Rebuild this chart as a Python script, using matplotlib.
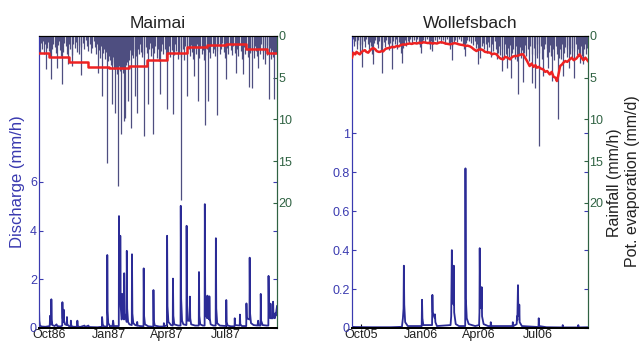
import matplotlib
matplotlib.use("Agg")
import matplotlib.pyplot as plt
import numpy as np

plt.rcParams["font.family"] = ["Liberation Sans", "DejaVu Sans"]

# ---------------- Maimai (start 1986-09-16, x in days) ----------------
mm_start = "1986-09-16"
mm_ticks = ["1986-10-01", "1987-01-01", "1987-04-01", "1987-07-01"]
mm_ticklabels = ["Oct86", "Jan87", "Apr87", "Jul87"]

mm_q_day = [0, 0.5, 1.5, 4, 10, 16.5, 17, 17.5, 18.7, 19, 19.5, 20.5, 24, 27, 28, 33,
            35.7, 36, 36.5, 37.7, 38, 38.5, 40, 42.7, 43, 43.5, 46, 48.7, 49, 49.7, 53,
            58.7, 59, 59.6, 63, 70, 71, 76, 77, 90, 96.7, 97, 98, 100, 104.7, 105, 105.5,
            106.5, 109, 113, 114, 115, 122.7, 123, 123.5, 124.7, 125, 125.6, 127, 127.7,
            128, 128.5, 130.7, 131, 131.6, 134.7, 135, 135.6, 137, 139, 142.7, 143, 143.6,
            145, 148, 150.7, 151, 151.6, 155, 160.7, 161, 161.6, 163, 168, 175.7, 176,
            176.6, 178, 185, 191.7, 192, 193, 196.7, 197, 197.6, 199, 203, 205.7, 206,
            206.6, 208, 214, 217.7, 218, 218.6, 220, 222, 226.7, 227, 227.6, 229, 231.7,
            232, 232.6, 234, 240, 245.7, 246, 246.6, 248, 252, 254.7, 255, 255.6, 257,
            258.7, 259, 259.6, 261.7, 262, 262.6, 264, 268, 271.7, 272, 272.6, 274, 278,
            287.7, 288, 288.6, 290, 295, 300.7, 301, 301.6, 308.7, 309, 309.6, 312, 318.7,
            319, 319.6, 323.7, 324, 324.6, 326, 330, 336, 337, 338, 340.7, 341, 341.6, 344,
            350, 352.7, 353, 353.6, 355.7, 356, 356.6, 359.7, 360, 360.6, 362.7, 363, 364,
            366]
mm_q = [0.9, 0.3, 0.1, 0.06, 0.05, 0.08, 0.5, 0.2, 0.15, 1.18, 0.35, 0.12, 0.08, 0.15, 0.08, 0.06,
        0.1, 1.06, 0.4, 0.25, 0.75, 0.3, 0.15, 0.12, 0.45, 0.15, 0.08, 0.06, 0.3, 0.08, 0.05,
        0.05, 0.3, 0.07, 0.04, 0.1, 0.04, 0.1, 0.04, 0.03, 0.05, 0.45, 0.15, 0.06, 0.06, 3.0, 0.7,
        0.2, 0.08, 0.08, 0.3, 0.08, 0.08, 4.6, 1.5, 1.0, 3.79, 0.9, 0.35, 0.4,
        1.4, 0.5, 0.35, 2.25, 0.6, 0.25, 3.17, 0.8, 0.25, 0.15, 0.12, 3.03, 0.6,
        0.2, 0.12, 0.1, 0.25, 0.1, 0.08, 0.07, 2.45, 0.5, 0.15, 0.07, 0.05, 1.56,
        0.3, 0.1, 0.06, 0.06, 0.2, 0.08, 0.1, 3.79, 0.9, 0.25, 0.12, 0.1, 2.03,
        0.5, 0.15, 0.1, 0.1, 5.02, 1.2, 0.3, 0.15, 0.12, 4.2, 1.0, 0.3, 0.3,
        1.29, 0.4, 0.15, 0.1, 0.1, 2.3, 0.5, 0.15, 0.1, 0.1, 5.09, 1.3, 0.5,
        0.4, 1.33, 0.5, 0.35, 1.3, 0.4, 0.15, 0.1, 0.1, 3.69, 0.8, 0.2, 0.1,
        0.08, 1.15, 0.25, 0.1, 0.07, 0.07, 0.4, 0.12, 0.1, 0.55, 0.15, 0.08, 0.08,
        1.01, 0.4, 0.35, 2.89, 0.6, 0.2, 0.12, 0.1, 0.3, 0.1, 0.1, 1.4, 0.3, 0.12,
        0.1, 0.1, 2.14, 0.6, 0.4, 1.0, 0.4, 0.4, 1.08, 0.5, 0.4, 0.6, 0.5,
        0.9]

mm_rain_day = [0, 1, 3, 4, 6, 8, 9, 11, 12, 14, 16, 17, 19, 20, 22, 24, 26, 28, 29, 31, 33, 34,
               36, 37, 39, 41, 43, 45, 46, 48, 50, 51, 53, 55, 57, 59, 61, 62, 64, 65, 67, 69,
               72, 74, 76, 78, 80, 82, 84, 86, 88, 89, 91, 92, 94, 95, 97, 98, 100, 101, 103,
               105, 106, 107, 108, 109, 110, 111, 112, 113, 114, 115, 116, 117, 118, 119, 120,
               121, 122, 123, 124, 125, 126, 127, 128, 129, 130, 131, 132, 133, 134, 135, 136,
               137, 138, 139, 140, 142, 143, 144, 145, 147, 148, 149, 151, 152, 154, 155, 157,
               159, 161, 162, 164, 166, 168, 169, 171, 173, 174, 176, 177, 179, 181, 183, 184,
               186, 187, 189, 191, 193, 195, 197, 198, 200, 202, 204, 206, 207, 209, 211, 213,
               215, 216, 218, 219, 221, 223, 225, 227, 228, 230, 232, 234, 236, 237, 239, 240,
               242, 243, 245, 246, 248, 250, 252, 253, 255, 256, 258, 260, 261, 263, 265, 267,
               269, 271, 273, 274, 276, 278, 280, 282, 284, 286, 288, 289, 291, 293, 295, 297,
               299, 301, 303, 304, 306, 308, 310, 312, 314, 315, 317, 319, 321, 323, 324, 325,
               327, 328, 330, 332, 334, 335, 337, 338, 340, 342, 344, 345, 347, 348, 350, 351,
               353, 354, 356, 357, 359, 360, 362, 363, 364, 365]
mm_rain = [1.2, 2.0, 0.8, 1.5, 0.6, 2.2, 1.0, 4.0, 1.4, 0.7, 1.8, 2.5, 5.2, 1.6, 0.9, 1.3, 2.0, 3.8, 1.1, 0.6, 1.7, 2.4,
           5.7, 1.9, 0.8, 1.2, 2.1, 3.3, 1.0, 1.5, 2.3, 3.6, 0.9, 1.4, 0.7, 1.9, 1.1, 2.2, 4.7, 1.3, 0.8, 1.6,
           0.5, 1.2, 1.8, 0.9, 2.0, 1.4, 0.6, 1.3, 2.2, 1.0, 4.4, 1.7, 2.6, 1.2, 7.2, 2.0, 1.5, 2.8, 1.9,
           15.2, 3.0, 2.4, 1.6, 2.9, 3.5, 2.2, 8.2, 3.1, 2.5, 4.0, 3.3, 9.2, 2.7, 3.8, 4.5,
           2.9, 18.0, 3.6, 4.2, 3.0, 11.8, 2.6, 3.9, 4.4, 10.2, 3.2, 2.8, 9.8, 3.5, 2.4, 3.1,
           7.8, 2.0, 2.9, 1.7, 11.0, 2.3, 1.5, 2.6, 7.2, 1.8, 2.4, 9.2, 1.6, 2.1, 1.0, 1.9,
           2.5, 12.0, 2.2, 1.3, 2.0, 8.2, 1.5, 0.8, 2.4, 1.4, 11.7, 2.0, 1.2, 2.6, 1.5, 3.0,
           7.0, 1.8, 0.9, 2.2, 1.6, 2.8, 8.7, 2.1, 1.2, 2.5, 1.7, 9.4, 2.3, 1.0, 1.8, 2.7,
           1.4, 2.0, 19.6, 2.5, 1.6, 2.9, 1.2, 7.2, 2.0, 1.5, 2.4, 1.1, 1.9, 2.8, 4.8, 1.3,
           2.2, 1.0, 7.8, 2.6, 1.4, 2.1, 1.7, 2.9, 10.7, 2.3, 1.5, 7.8, 1.9, 2.6, 1.2, 2.0,
           1.5, 2.4, 9.5, 1.8, 1.0, 2.2, 1.6, 0.8, 1.9, 2.6, 5.2, 1.4, 2.1, 0.9, 1.7, 2.3,
           1.2, 2.0, 4.4, 1.5, 2.4, 1.1, 1.8, 2.7, 4.6, 1.3, 2.2, 1.6, 2.5, 6.1, 2.0, 1.4,
           6.2, 1.9, 2.6, 1.2, 1.8, 2.4, 3.8, 1.5, 2.2, 1.0, 1.9, 2.7, 3.4, 1.6, 2.3, 1.1,
           7.5, 2.0, 1.4, 2.8, 1.7, 2.5, 7.6, 2.2, 1.5, 2.0]

mm_pet_month = ["1986-09-16", "1986-10-01", "1986-11-01", "1986-12-01", "1987-01-01",
                "1987-02-01", "1987-03-01", "1987-04-01", "1987-05-01", "1987-06-01",
                "1987-07-01", "1987-08-01", "1987-09-01", "1987-09-17"]
mm_pet = [2.0, 2.5, 3.1, 3.75, 3.85, 3.65, 2.9, 2.0, 1.37, 1.05, 1.0, 1.57, 2.0, 2.0]

# ---------------- Wollefsbach (start 2005-09-17) ----------------
ww_start = "2005-09-17"
ww_ticks = ["2005-10-01", "2006-01-01", "2006-04-01", "2006-07-01"]
ww_ticklabels = ["Oct05", "Jan06", "Apr06", "Jul06"]

ww_q_day = [0, 5, 30, 60, 77, 78.5, 79.5, 80, 80.6, 82, 86, 107.5, 108, 108.6, 110, 123.5, 124,
            124.6, 127.7, 128, 128.6, 131, 152, 153, 154, 154.6, 156.7, 157, 157.6, 160, 165,
            174.6, 175, 175.6, 177, 180, 190, 196, 196.6, 197, 197.6, 199.6, 200, 200.6, 203,
            210, 213.7, 214, 215, 247.7, 248, 249, 254, 254.5, 255, 256, 256.6, 257.7, 258,
            258.6, 262, 287.7, 288, 288.7, 300, 324.7, 325, 325.7, 348.7, 349, 349.7, 364]
ww_q = [0.006, 0.005, 0.004, 0.004, 0.006, 0.05, 0.1, 0.32, 0.12, 0.03, 0.01, 0.01, 0.145, 0.05, 0.015, 0.015, 0.17,
        0.08, 0.05, 0.07, 0.03, 0.01, 0.015, 0.06, 0.40, 0.15, 0.12, 0.32, 0.08, 0.02, 0.01,
        0.01, 0.82, 0.15, 0.05, 0.02, 0.01, 0.015, 0.08, 0.41, 0.15, 0.1, 0.21, 0.06, 0.02,
        0.01, 0.01, 0.03, 0.01, 0.01, 0.03, 0.01, 0.02, 0.06, 0.04, 0.22, 0.08, 0.06, 0.12,
        0.03, 0.01, 0.005, 0.05, 0.01, 0.004, 0.003, 0.015, 0.003, 0.003, 0.015, 0.003, 0.004]

ww_rain_day = [0, 2, 3, 5, 7, 8, 10, 12, 13, 15, 16, 18, 20, 22, 24, 26, 28, 30, 31, 33, 34, 36,
               38, 40, 42, 44, 46, 47, 49, 51, 53, 55, 57, 59, 61, 62, 64, 66, 68, 70, 72, 74,
               75, 77, 78, 80, 82, 84, 86, 88, 90, 93, 95, 98, 100, 103, 105, 107, 108, 110,
               113, 116, 118, 120, 122, 124, 125, 128, 131, 134, 137, 140, 143, 146, 149, 151,
               152, 154, 155, 157, 159, 162, 165, 168, 171, 173, 175, 176, 178, 181, 184, 187,
               189, 191, 193, 195, 196, 198, 200, 202, 204, 206, 208, 210, 212, 214, 216, 218,
               220, 222, 224, 225, 227, 229, 231, 232, 234, 236, 237, 239, 240, 242, 244, 246,
               247, 249, 251, 253, 254, 256, 257, 259, 261, 262, 264, 265, 267, 269, 271, 273,
               275, 277, 278, 280, 282, 283, 285, 286, 288, 289, 291, 293, 295, 296, 298, 300,
               301, 303, 304, 306, 307, 309, 310, 312, 314, 316, 318, 319, 321, 322, 324, 326,
               327, 329, 331, 332, 334, 335, 337, 339, 340, 342, 343, 345, 347, 349, 350, 352,
               353, 355, 357, 358, 360, 361, 363, 364]
ww_rain = [0.8, 0.4, 1.2, 0.6, 1.5, 0.9, 0.5, 1.1, 2.0, 3.7, 1.0, 0.6, 1.3, 0.4, 0.9, 1.6, 0.7, 1.2, 2.2, 3.4, 0.8, 0.5,
           1.0, 1.4, 0.6, 1.8, 4.4, 1.1, 0.7, 1.3, 0.5, 0.9, 1.7, 0.8, 4.0, 1.2, 0.6, 1.0, 0.4, 1.5, 0.7, 1.1,
           2.0, 3.2, 1.4, 0.9, 0.5, 1.2, 0.6, 0.8, 0.4, 1.0, 0.5, 0.7, 0.4, 0.9, 1.3, 2.0, 0.8, 0.5,
           0.7, 0.4, 1.0, 1.5, 0.6, 1.8, 0.9, 0.5, 0.7, 0.4, 0.8, 0.5, 0.9, 0.4, 1.0, 1.6,
           0.7, 2.9, 1.2, 0.8, 0.5, 0.7, 0.4, 0.6, 0.9, 1.5, 2.4, 0.8, 0.5, 0.6, 0.8, 1.1,
           0.6, 1.4, 0.9, 3.3, 1.5, 2.6, 1.2, 0.8, 1.6, 1.0, 2.0, 0.7, 1.3, 2.5, 1.0, 1.8,
           0.6, 1.5, 2.7, 2.0, 1.2, 2.3, 4.2, 1.5, 2.8, 1.0, 2.2, 3.8, 1.4, 2.5, 1.1, 5.0,
           2.0, 1.5, 2.8, 1.2, 3.0, 7.0, 2.2, 1.3, 2.6, 1.7, 5.5, 2.0, 1.1, 2.4, 1.6, 3.0,
           1.2, 5.6, 2.1, 1.4, 6.2, 2.3, 1.0, 2.6, 13.2, 2.0, 1.2, 2.8, 4.8, 1.6, 1.0, 2.5,
           1.4, 3.8, 1.9, 1.1, 2.4, 5.4, 1.6, 2.9, 1.2, 2.2, 10.0, 2.6, 1.5, 2.8, 1.0, 4.8,
           2.0, 1.3, 2.5, 1.6, 3.8, 1.1, 2.2, 1.4, 2.7, 5.0, 1.8, 1.0, 2.3, 1.5, 2.0, 3.2,
           1.2, 2.4, 3.4, 1.6, 1.0, 2.2, 1.4, 0.8]

ww_pet_day = [0, 2, 5, 7, 10, 12, 15, 17, 20, 22, 25, 28, 31, 33, 36, 38, 41, 43, 46, 48, 51, 53,
              56, 59, 62, 65, 69, 72, 75, 79, 82, 85, 89, 92, 96, 100, 104, 107, 110, 114, 117,
              120, 124, 127, 131, 134, 137, 141, 144, 148, 151, 154, 158, 161, 165, 168, 172,
              175, 178, 182, 185, 188, 192, 195, 199, 202, 205, 209, 213, 216, 219, 223, 226,
              229, 233, 236, 240, 244, 247, 251, 254, 258, 261, 264, 267, 270, 274, 277, 280,
              283, 285, 288, 291, 295, 298, 301, 305, 308, 311, 314, 316, 318, 321, 324, 326,
              329, 332, 336, 339, 342, 346, 349, 351, 354, 357, 360, 362, 364]
ww_pet = [2.6, 2.0, 2.2, 1.9, 2.1, 2.2, 1.9, 1.8, 1.7, 1.9, 2.0, 1.7, 1.5, 1.45, 1.6, 1.8, 1.9, 1.9, 1.8, 1.85, 1.6, 1.5,
          1.45, 1.4, 1.3, 1.35, 1.2, 1.25, 1.1, 1.0, 1.05, 0.95, 0.9, 0.95, 0.85, 0.9, 0.8, 0.85, 0.75, 0.8, 0.85,
          0.8, 0.9, 0.85, 0.9, 0.8, 0.75, 0.8, 0.9, 0.95, 1.0, 0.95, 0.85, 0.9, 1.0, 1.05, 1.1,
          1.2, 1.15, 1.25, 1.4, 1.6, 1.8, 1.65, 1.6, 1.7, 1.9, 1.95, 2.0, 2.2, 2.1, 2.2, 2.5,
          2.7, 2.8, 2.5, 2.6, 2.8, 2.5, 2.4, 2.4, 2.3, 2.2, 2.2, 2.6, 3.0, 3.6, 3.3, 3.7,
          3.5, 3.8, 3.7, 3.9, 4.0, 4.3, 4.2, 4.6, 4.3, 4.9, 5.0, 5.4, 4.8, 3.6, 3.4, 3.2,
          3.0, 3.1, 2.8, 2.6, 2.9, 2.7, 2.4, 2.2, 2.6, 2.9, 2.6, 2.8, 3.0]

# colours
Q_COL = "#2b2b96"
RAIN_COL = "#4e4e80"
PET_COL = "#ee2222"
LEFT_COL = "#3a3ab0"
RIGHT_COL = "#2f6242"


def days(start, d):
    return np.datetime64(start) + (np.array(d) * 24 * 3600).astype("timedelta64[s]")


def panel(rect, title, start, nd, qd, q, rd, r, pet_x, pet, qmax, qticks, qlabels, ticks, ticklabels):
    ax = fig.add_axes(rect)
    ax2 = ax.twinx()
    ax.plot(days(start, qd), q, color=Q_COL, lw=1.3, zorder=2)
    ax2.vlines(days(start, rd), 0, r, color=RAIN_COL, lw=0.9)
    ax2.plot(pet_x, pet, color=PET_COL, lw=1.8, zorder=3)

    t0 = np.datetime64(start)
    ax.set_xlim(t0, t0 + np.timedelta64(nd, "D"))
    ax.set_ylim(0, qmax)
    ax2.set_ylim(35, 0)

    ax.set_xticks([np.datetime64(t) for t in ticks])
    ax.set_xticklabels(ticklabels, fontsize=9)
    ax.tick_params(axis="x", direction="in", length=3, pad=1, colors="black", labelcolor="#222222")
    ax.set_yticks(qticks)
    ax.set_yticklabels(qlabels, fontsize=9)
    ax.tick_params(axis="y", direction="in", length=3, pad=1.5, colors=LEFT_COL, right=True)
    ax2.set_yticks([0, 5, 10, 15, 20])
    ax2.set_yticklabels(["0", "5", "10", "15", "20"], fontsize=9)
    ax2.tick_params(axis="y", direction="in", length=3, pad=1, colors=RIGHT_COL)

    for a in (ax, ax2):
        a.spines["left"].set_color(LEFT_COL)
        a.spines["right"].set_color(RIGHT_COL)
        a.spines["top"].set_color("black")
        a.spines["bottom"].set_color("black")
        a.spines["bottom"].set_linewidth(1.4)
    ax.set_title(title, fontsize=12.5, pad=6, color="#222222")
    return ax, ax2


fig = plt.figure(figsize=(6.42, 3.41), dpi=100)

ax, ax2 = panel([39 / 642, 13 / 341, 238 / 642, 292 / 341], "Maimai", mm_start, 366,
                mm_q_day, mm_q, mm_rain_day, mm_rain,
                [np.datetime64(m) for m in mm_pet_month], mm_pet,
                12, [0, 2, 4, 6], ["0", "2", "4", "6"], mm_ticks, mm_ticklabels)
ax2.lines[0].set_drawstyle("steps-post")
ax.set_ylabel("Discharge (mm/h)", fontsize=12, color=LEFT_COL)
ax.yaxis.set_label_coords(-0.06, 0.5)

bx, bx2 = panel([352 / 642, 13 / 341, 236 / 642, 292 / 341], "Wollefsbach", ww_start, 364,
                ww_q_day, ww_q, ww_rain_day, ww_rain,
                days(ww_start, ww_pet_day), ww_pet,
                1.5, [0, 0.2, 0.4, 0.6, 0.8, 1.0], ["0", "0.2", "0.4", "0.6", "0.8", "1"],
                ww_ticks, ww_ticklabels)

fig.text(614 / 642, 0.465, "Rainfall (mm/h)", rotation=90, fontsize=11.5, color="#222222",
         ha="center", va="center")
fig.text(632 / 642, 0.47, "Pot. evaporation (mm/d)", rotation=90, fontsize=11.5, color="#222222",
         ha="center", va="center")

fig.savefig("out.png", dpi=100)
